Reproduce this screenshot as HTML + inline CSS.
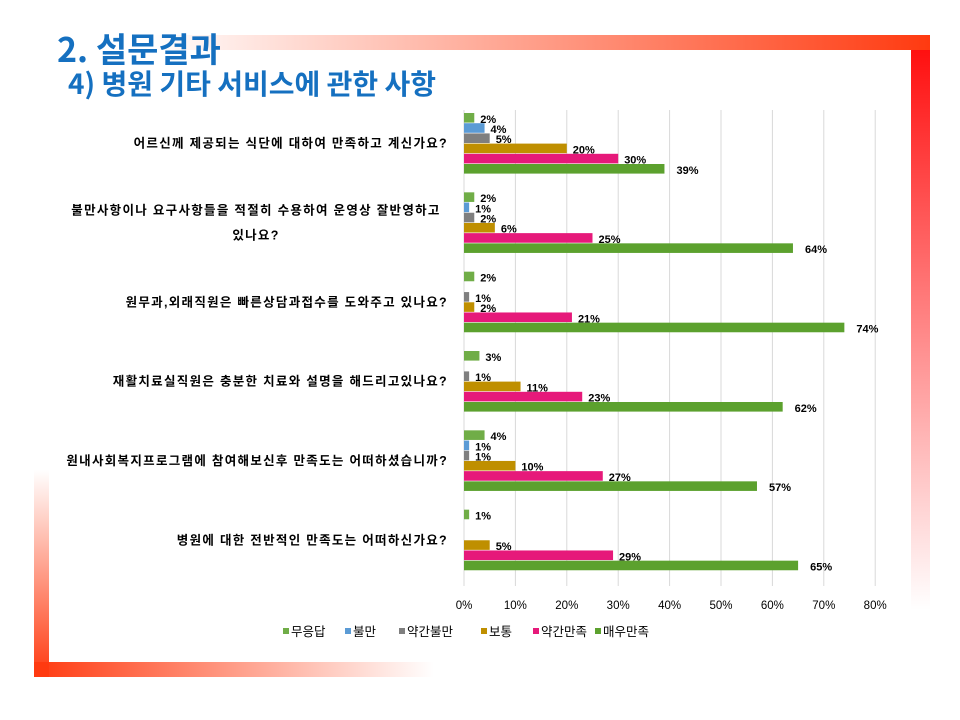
<!DOCTYPE html>
<html><head><meta charset="utf-8">
<style>
body{margin:0;background:#fff;}
#wrap{position:relative;width:960px;height:720px;overflow:hidden;background:#fff;font-family:"Liberation Sans","Noto Sans CJK KR",sans-serif;}
.bar{position:absolute;}
</style></head>
<body>
<div id="wrap">
<div class="bar" style="left:150px;top:35px;width:780px;height:15px;background:linear-gradient(to right,rgba(255,60,20,0),#ff3a10);"></div>
<div class="bar" style="left:911px;top:50px;width:19px;height:560px;background:linear-gradient(to bottom,#ff1010,rgba(255,60,60,0));"></div>
<div class="bar" style="left:34px;top:470px;width:15px;height:207px;background:linear-gradient(to top,#ff3a10,rgba(255,80,80,0));"></div>
<div class="bar" style="left:34px;top:662px;width:400px;height:15px;background:linear-gradient(to right,#ff3a10,rgba(255,80,80,0));"></div>
<div style="position:absolute;left:57px;top:26px;font-size:34px;font-weight:bold;color:#1570c0;font-family:'Noto Sans CJK KR',sans-serif;line-height:44px;white-space:nowrap;">2. 설문결과</div>
<div style="position:absolute;left:68px;top:64px;font-size:28px;font-weight:bold;color:#1570c0;font-family:'Noto Sans CJK KR',sans-serif;line-height:38px;white-space:nowrap;">4) 병원 기타 서비스에 관한 사항</div>
<svg id="chart" width="960" height="720" style="position:absolute;left:0;top:0;" font-family="Liberation Sans, Noto Sans CJK KR, sans-serif"></svg>
</div>
<script>
const categories=[["어르신께 제공되는 식단에 대하여 만족하고 계신가요?"],["불만사항이나 요구사항들을 적절히 수용하여 운영상 잘반영하고","있나요?"],["원무과,외래직원은 빠른상담과접수를 도와주고 있나요?"],["재활치료실직원은 충분한 치료와 설명을 해드리고있나요?"],["원내사회복지프로그램에 참여해보신후 만족도는 어떠하셨습니까?"],["병원에 대한 전반적인 만족도는 어떠하신가요?"]];
const seriesNames=["무응답","불만","약간불만","보통","약간만족","매우만족"];
const noResponse=[2,2,2,3,4,1];
const dissatisfied=[4,1,0,0,1,0];
const slightlyDissatisfied=[5,2,1,1,1,0];
const neutral=[20,6,2,11,10,5];
const slightlySatisfied=[30,25,21,23,27,29];
const verySatisfied=[39,64,74,62,57,65];
const tickLabels=[0,10,20,30,40,50,60,70,80];
const colors=["#70ad47","#5b9bd5","#7f7f7f","#bf8f00","#e6197a","#5ca12e"];
const series=[noResponse,dissatisfied,slightlyDissatisfied,neutral,slightlySatisfied,verySatisfied];
const NS="http://www.w3.org/2000/svg";
const svg=document.getElementById('chart');
const x0=464,pxPer=5.14,plotTop=110,plotBot=586;
const band=(plotBot-plotTop)/categories.length;
const xs=v=>x0+v*pxPer;
function mk(t,a){const e=document.createElementNS(NS,t);for(const k in a)e.setAttribute(k,a[k]);svg.appendChild(e);return e;}
tickLabels.forEach(t=>{
  const l=mk('line',{x1:xs(t),x2:xs(t),y1:plotTop,y2:plotBot,stroke:'#d9d9d9','stroke-width':1});
  
  
  const tx=mk('text',{x:xs(t),y:609,'text-anchor':'middle','font-size':11.5,fill:'#000'});
  tx.textContent=t+'%';
  
  
});
const barH=9.6,step=10.2;
categories.forEach((c,i)=>{
  const gTop=plotTop+i*band+3;
  const cy=gTop+3*step;
  const lines=c.length;
  c.forEach((ln,j)=>{
    const tx=mk('text',{x:lines>1?256:448,y:cy+4-(lines-1)*12.5+j*25,'text-anchor':lines>1?'middle':'end','font-size':12.5,'letter-spacing':1.3,'font-weight':'bold',fill:'#000'});
    tx.textContent=ln;
    
    
  });
  series.forEach((s,k)=>{
    const v=s[i];
    if(!v)return;
    const y=gTop+k*step;
    const r=mk('rect',{x:x0,y:y,width:xs(v)-x0,height:barH,fill:colors[k]});
    
    
    const tx=mk('text',{x:xs(v)+(k===5?12:6),y:y+barH/2+5,'font-size':11,'font-weight':'bold',fill:'#000'});
    tx.textContent=v+'%';
    
    
  });
});
const legX=[283,345,399,481,533,595];
seriesNames.forEach((n,k)=>{
  const r=mk('rect',{x:legX[k],y:628,width:6,height:6,fill:colors[k]});
  
  
  const tx=mk('text',{x:legX[k]+8,y:636,'font-size':12.5,fill:'#000'});
  tx.textContent=n;
  
  
});
</script>
</body></html>
